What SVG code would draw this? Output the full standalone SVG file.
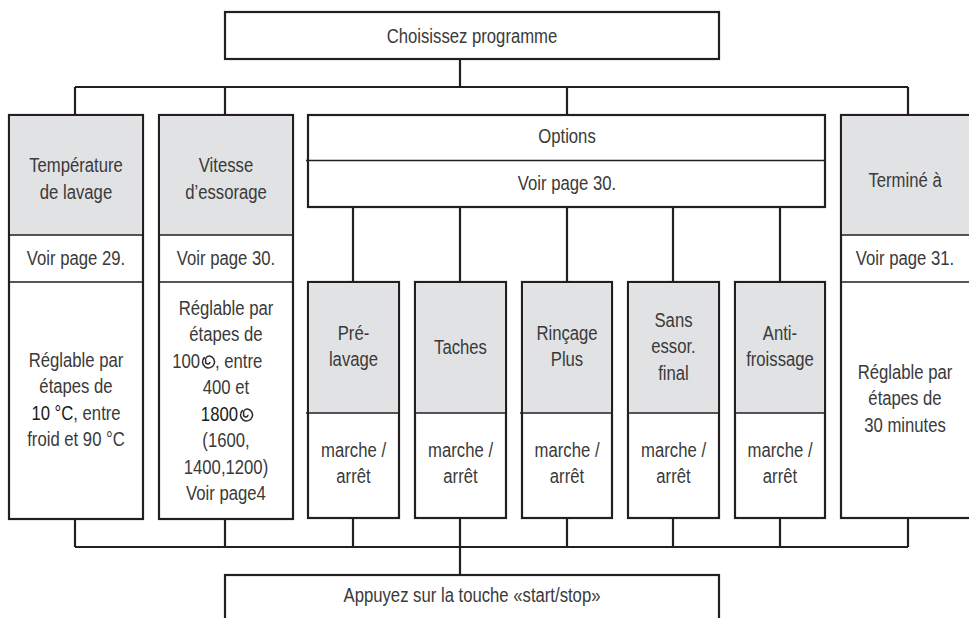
<svg xmlns="http://www.w3.org/2000/svg" width="969" height="618" viewBox="0 0 969 618">
<defs>
<style>
.box{fill:#fff;stroke:#231f20;stroke-width:2.2}
.hdr{fill:#e1e2e4;stroke:none}
.dv{stroke:#231f20;stroke-width:1.3;fill:none}
.conn{stroke:#231f20;stroke-width:2.2;fill:none}
text{font-family:"Liberation Sans",Arial,sans-serif;font-size:20px;fill:#3a3a3a;text-anchor:middle;transform-box:fill-box;transform-origin:50% 50%;transform:scaleX(.835)}
text.e{text-anchor:end;transform-origin:100% 50%}
text.s{text-anchor:start;transform-origin:0% 50%}
.dk{fill:#1a1a1a}
.sp{fill:none;stroke:#2a2a2a;stroke-width:1.5;stroke-linecap:round}
</style>
<path id="spiral" class="sp" d="M-4.2,-4.4 A6,6 0 1 0 1.2,-6 A3.8,3.8 0 0 0 -2.8,-1 A2.2,2.2 0 0 0 1.4,0.4"/>
</defs>
<rect width="969" height="618" fill="#fff"/>
<g id="connectors">
<path class="conn" d="M460,59V87M75,87H908M75,87V115M225,87V115M567,87V115M908,87V115"/>
<path class="conn" d="M353,207V282M460,207V282M567,207V282M673,207V282M780,207V282"/>
<path class="conn" d="M75,519V547M225,519V547M353,518V547M460,518V575M567,518V547M673,518V547M780,518V547M908,518V547M75,547H908"/>
</g>
<g id="start">
<rect class="box" x="225" y="12" width="494" height="47"/>
<text x="472" y="43">Choisissez programme</text>
</g>
<g id="temperature">
<rect class="box" x="9" y="115" width="134" height="404"/>
<rect class="hdr" x="10.1" y="116.1" width="131.8" height="118.9"/>
<path class="dv" d="M9,235H143M9,282H143"/>
<text x="76" y="172">Température</text>
<text x="76" y="199">de lavage</text>
<text x="76" y="265">Voir page 29.</text>
<text x="76" y="367">Réglable par</text>
<text x="76" y="393.5">étapes de</text>
<text x="76" y="420"><tspan class="dk">10 °C</tspan>, entre</text>
<text x="76" y="446.5">froid et 90 °C</text>
</g>
<g id="essorage">
<rect class="box" x="159" y="115" width="134" height="404"/>
<rect class="hdr" x="160.1" y="116.1" width="131.8" height="118.9"/>
<path class="dv" d="M159,235H293M159,282H293"/>
<text x="226" y="172">Vitesse</text>
<text x="226" y="199">d’essorage</text>
<text x="226" y="265">Voir page 30.</text>
<text x="226" y="315">Réglable par</text>
<text x="226" y="341.5">étapes de</text>
<text class="e" x="200" y="368">100</text>
<use href="#spiral" x="208.5" y="362"/>
<text class="s" x="215" y="368">, entre</text>
<text x="226" y="394.5">400 et</text>
<text class="e dk" x="238" y="421">1800</text>
<use href="#spiral" x="246.5" y="415"/>
<text x="226" y="447.5">(1600,</text>
<text x="226" y="474">1400,1200)</text>
<text x="226" y="500.5">Voir page4</text>
</g>
<g id="options">
<rect class="box" x="308" y="115" width="517" height="92"/>
<path class="dv" d="M306,160.5H825"/>
<text x="567" y="143">Options</text>
<text x="567" y="190">Voir page 30.</text>
</g>
<g id="prelavage">
<rect class="box" x="308" y="282" width="91" height="236"/>
<rect class="hdr" x="309.1" y="283.1" width="88.8" height="129.9"/>
<path class="dv" d="M306,413H399"/>
<text x="353.5" y="340">Pré-</text>
<text x="353.5" y="366">lavage</text>
<text x="353.5" y="457">marche /</text>
<text x="353.5" y="483">arrêt</text>
</g>
<g id="taches">
<rect class="box" x="415" y="282" width="91" height="236"/>
<rect class="hdr" x="416.1" y="283.1" width="88.8" height="129.9"/>
<path class="dv" d="M415,413H506"/>
<text x="460.5" y="354">Taches</text>
<text x="460.5" y="457">marche /</text>
<text x="460.5" y="483">arrêt</text>
</g>
<g id="rincage">
<rect class="box" x="522" y="282" width="90" height="236"/>
<rect class="hdr" x="523.1" y="283.1" width="87.8" height="129.9"/>
<path class="dv" d="M520,413H612"/>
<text x="567" y="340">Rinçage</text>
<text x="567" y="366">Plus</text>
<text x="567" y="457">marche /</text>
<text x="567" y="483">arrêt</text>
</g>
<g id="sans-essorage">
<rect class="box" x="628" y="282" width="91" height="236"/>
<rect class="hdr" x="629.1" y="283.1" width="88.8" height="129.9"/>
<path class="dv" d="M628,413H719"/>
<text x="673.5" y="327">Sans</text>
<text x="673.5" y="353.5">essor.</text>
<text x="673.5" y="380">final</text>
<text x="673.5" y="457">marche /</text>
<text x="673.5" y="483">arrêt</text>
</g>
<g id="antifroissage">
<rect class="box" x="735" y="282" width="90" height="236"/>
<rect class="hdr" x="736.1" y="283.1" width="87.8" height="129.9"/>
<path class="dv" d="M735,413H825"/>
<text x="780" y="340">Anti-</text>
<text x="780" y="366">froissage</text>
<text x="780" y="457">marche /</text>
<text x="780" y="483">arrêt</text>
</g>
<g id="termine">
<rect class="box" x="841" y="115" width="140" height="403"/>
<rect class="hdr" x="842.1" y="116.1" width="137.8" height="118.9"/>
<path class="dv" d="M841,235H981M841,282H981"/>
<text x="905" y="187">Terminé à</text>
<text x="905" y="265">Voir page 31.</text>
<text x="905" y="379">Réglable par</text>
<text x="905" y="405.5">étapes de</text>
<text x="905" y="432">30 minutes</text>
</g>
<g id="startstop">
<rect class="box" x="225" y="575" width="494" height="60"/>
<text x="472" y="602">Appuyez sur la touche «start/stop»</text>
</g>
</svg>
